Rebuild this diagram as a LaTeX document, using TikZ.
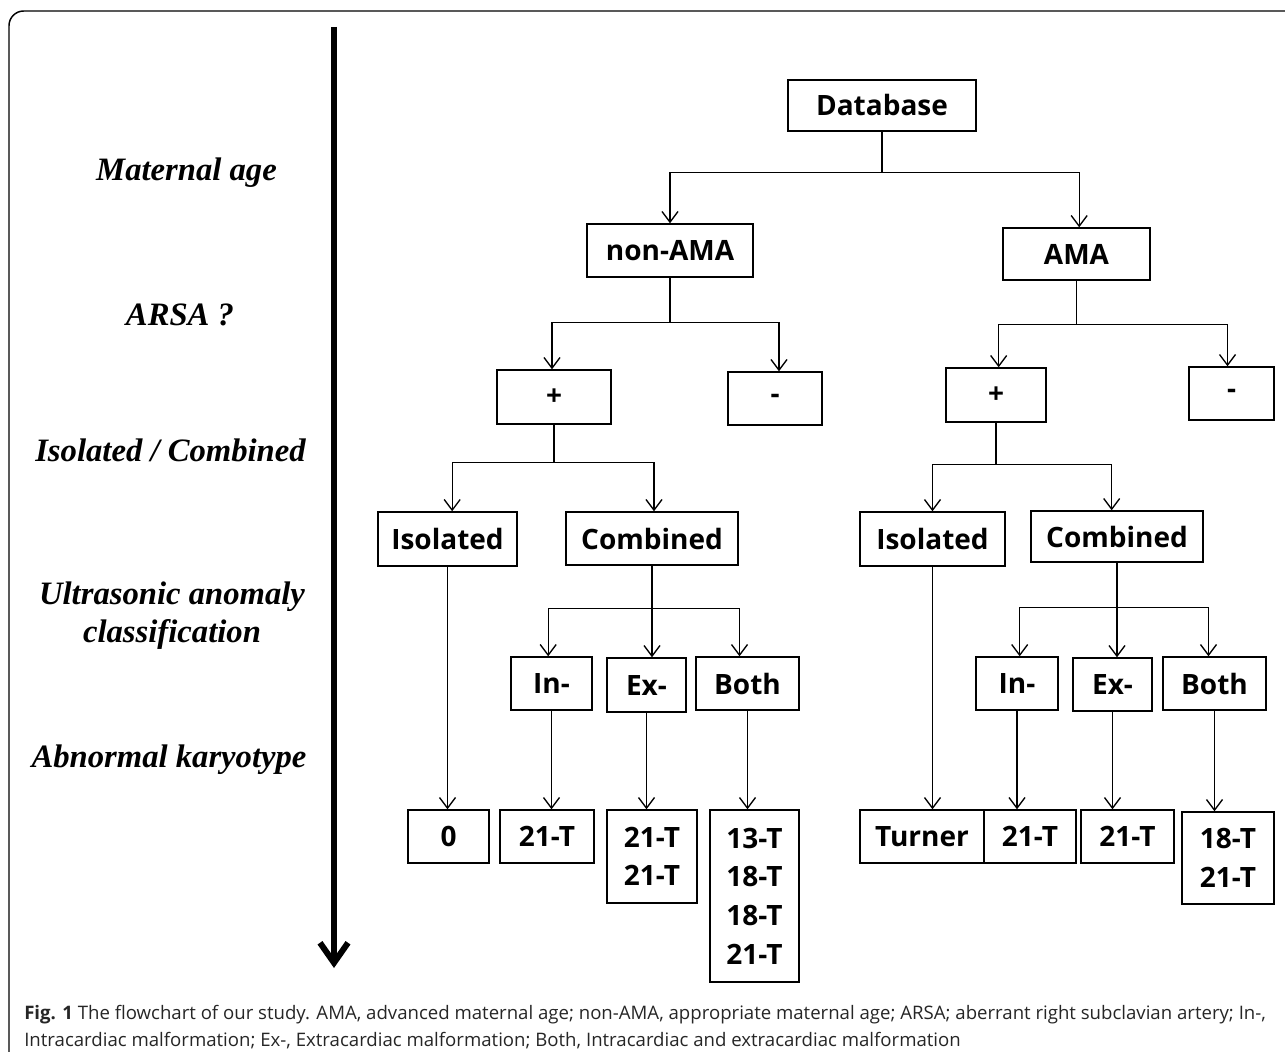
\documentclass[tikz,border=0pt]{standalone}
\usepackage{fontspec}
\setmainfont{Liberation Serif}
\newfontfamily\boxfont{Open Sans}
\newfontfamily\capfont{Open Sans}
\usetikzlibrary{arrows.meta}
\begin{document}
\begin{tikzpicture}[x=0.75pt,y=-0.75pt,
  box/.style={draw, line width=1.1pt, inner sep=0pt, align=center,
    font=\boxfont\bfseries\fontsize{21}{29}\selectfont},
  bx/.style 2 args={box, minimum width=#1*0.75pt, minimum height=#2*0.75pt},
  conn/.style={line width=1pt},
  arr/.style={conn, -{Straight Barb[length=8pt,width=12pt]}},
  side/.style={align=center, font=\bfseries\itshape\fontsize{24.5}{28.5}\selectfont}]

\useasboundingbox[fill=white] (0,0) rectangle (1285,1052);

% frame
\draw[line width=1.1pt, rounded corners=11pt] (9,1080) -- (9,11) -- (1300,11);

% main time arrow
\coordinate (atop) at (334,27);
\coordinate (abot) at (334,968);
\draw[line width=4.5pt, -{Straight Barb[length=15pt,width=21pt]}] (atop) -- (abot);

% side labels
\node[side] (l1) at (186.5,173) {Maternal age};
\node[side] (l2) at (180,315) {ARSA ?};
\node[side] (l3) at (170.5,450) {Isolated /\kern0.25em Combined};
\node[side] (l4) at (172,616) {Ultrasonic anomaly\\classification};
\node[side] (l5) at (169,760) {Abnormal karyotype};

% boxes
\node[bx={188}{51}] (db) at (882,105.5) {Database};
\node[bx={166}{53}] (nonama) at (670,250.5) {non-AMA};
\node[bx={147}{52}] (ama) at (1076.5,254) {AMA};
\node[bx={114}{54}] (plusL) at (554,397) {+};
\node[bx={94}{53}] (minusL) at (775,398.5) {-};
\node[bx={100}{54}] (plusR) at (996,395) {+};
\node[bx={85}{53}] (minusR) at (1231.5,393.5) {-};
\node[bx={139}{54}] (isoL) at (447.5,539) {Isolated};
\node[bx={172}{53}] (combL) at (652,538.5) {Combined};
\node[bx={145}{54}] (isoR) at (932.5,539) {Isolated};
\node[bx={172}{51}] (combR) at (1117,536.5) {Combined};
\node[bx={81}{53}] (inL) at (551.5,683.5) {In-};
\node[bx={79}{54}] (exL) at (646.5,685) {Ex-};
\node[bx={103}{53}] (bothL) at (747.5,683.5) {Both};
\node[bx={82}{53}] (inR) at (1017,683.5) {In-};
\node[bx={79}{53}] (exR) at (1112.5,684.5) {Ex-};
\node[bx={103}{53}] (bothR) at (1214.5,683.5) {Both};
\node[bx={81}{53}] (zero) at (448.5,836.5) {0};
\node[bx={94}{53}] (ta) at (547,836.5) {21-T};
\node[bx={90}{93}] (tb) at (652,856.5) {21-T\\21-T};
\node[bx={89}{172}] (tc) at (754.5,896) {13-T\\18-T\\18-T\\21-T};
\node[bx={124}{53}] (turner) at (922,836.5) {Turner};
\node[bx={92}{53}] (td) at (1030,836.5) {21-T};
\node[bx={93}{53}] (te) at (1127.5,836.5) {21-T};
\node[bx={92}{92}] (tf) at (1228,858) {18-T\\21-T};

% junctions
\path (db.south) ++(0,41) coordinate (jdb);
\path (nonama.south) ++(0,45) coordinate (jna);
\path (ama.south) ++(0,44) coordinate (jam);
\path (plusL.south) ++(0,38) coordinate (jpl);
\path (plusR.south) ++(0,42) coordinate (jpr);
\path (combL.south) ++(0,43) coordinate (jcl);
\path (combR.south) ++(0,45) coordinate (jcr);

% connectors
\draw[conn] (db.south) -- (jdb);
\draw[arr] (jdb) -| (nonama.north);
\draw[arr] (jdb) -| ([xshift=2pt]ama.north);

\draw[conn] (nonama.south) -- (jna);
\draw[arr] (jna) -| ([xshift=-1.5pt]plusL.north);
\draw[arr] (jna) -| ([xshift=3pt]minusL.north);

\draw[conn] (ama.south) -- (jam);
\draw[arr] (jam) -| ([xshift=2pt]plusR.north);
\draw[arr] (jam) -| ([xshift=-3pt]minusR.north);

\draw[conn] (plusL.south) -- (jpl);
\draw[arr] (jpl) -| ([xshift=3.5pt]isoL.north);
\draw[arr] (jpl) -| ([xshift=1.5pt]combL.north);

\draw[conn] (plusR.south) -- (jpr);
\draw[arr] (jpr) -| (isoR.north);
\draw[arr] (jpr) -| ([xshift=-4pt]combR.north);

\draw[arr] (combL.south) -- (combL.south |- exL.north);
\draw[arr] (jcl) -| ([xshift=-2.5pt]inL.north);
\draw[arr] (jcl) -| ([xshift=-6pt]bothL.north);

\draw[arr] (combR.south) -- (combR.south |- exR.north);
\draw[arr] (jcr) -| ([xshift=2pt]inR.north);
\draw[arr] (jcr) -| ([xshift=-4.5pt]bothR.north);

\draw[arr] (isoL.south) -- (isoL.south |- zero.north);
\draw[arr] (inL.south) -- (inL.south |- ta.north);
\draw[arr] (exL.south) -- (exL.south |- tb.north);
\draw[arr] (bothL.south) -- (bothL.south |- tc.north);
\draw[arr] (isoR.south) -- (isoR.south |- turner.north);
\draw[arr] (inR.south) -- (inR.south |- td.north);
\draw[arr] (exR.south) -- (exR.south |- te.north);
\draw[arr] (bothR.south) -- (bothR.south |- tf.north);

% caption
\node[anchor=west, align=left, inner sep=0pt, text=black!85,
  font=\capfont\fontsize{13.95}{20.25}\selectfont] (cap) at (24,1027)
  {{\bfseries Fig. 1} The flowchart of our study. AMA, advanced maternal age; non-AMA, appropriate maternal age; ARSA; aberrant right subclavian artery; In-,\\
   Intracardiac malformation; Ex-, Extracardiac malformation; Both, Intracardiac and extracardiac malformation};
\end{tikzpicture}
\end{document}
